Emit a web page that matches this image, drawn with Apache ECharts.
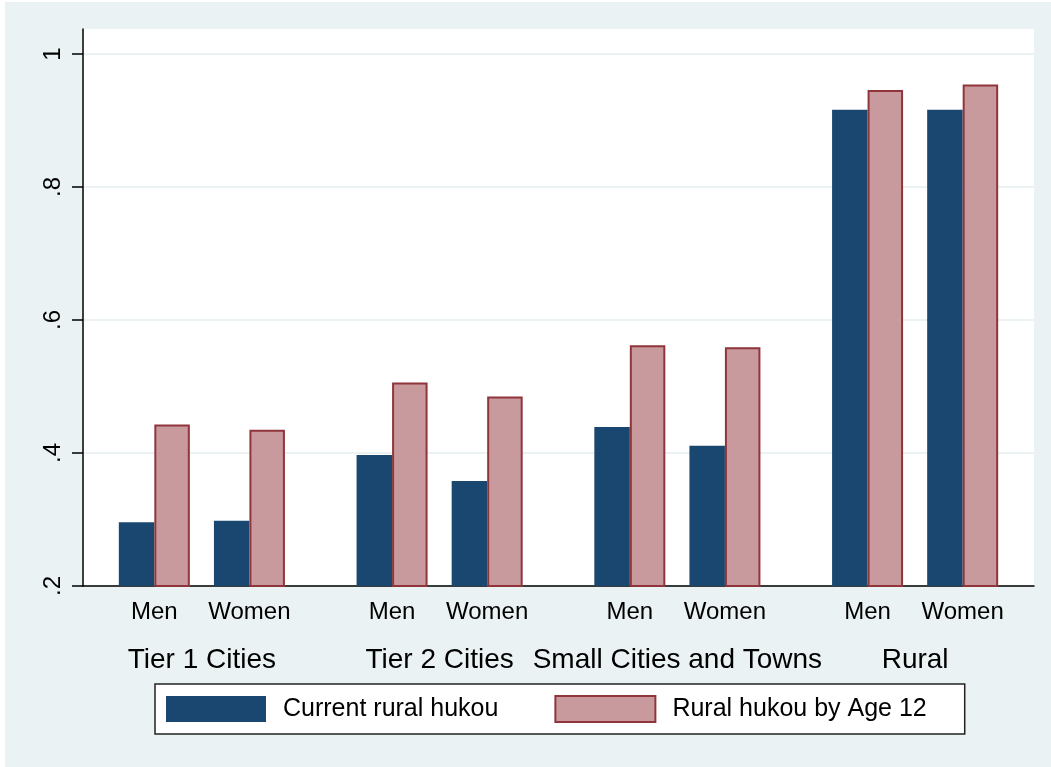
<!DOCTYPE html>
<html>
<head>
<meta charset="utf-8">
<script src="https://cdn.jsdelivr.net/npm/echarts@6/dist/echarts.min.js"></script>
<style>
  html, body { margin: 0; padding: 0; background: #ffffff; }
  #chart { position: absolute; left: 5px; top: 2px; width: 1046px; height: 765px; background: #EAF2F3; }
</style>
</head>
<body>
<div id="chart"></div>
<script>
// Share of respondents with rural hukou, by place of residence and sex
const regions = ['Tier 1 Cities', 'Tier 2 Cities', 'Small Cities and Towns', 'Rural'];
const sexes = ['Men', 'Women'];
// one value per region x sex, in the order Men, Women for each region
const currentRural = [0.296, 0.298, 0.397, 0.358, 0.439, 0.411, 0.916, 0.916];
const ruralAge12   = [0.443, 0.435, 0.506, 0.485, 0.562, 0.559, 0.946, 0.954];
const seriesNames  = ['Current rural hukou', 'Rural hukou by Age 12'];
const yTicks       = [0.2, 0.4, 0.6, 0.8, 1];
const yTickLabels  = ['.2', '.4', '.6', '.8', '1'];

// Category slots: each region gets five slots (pad, Men, gap, Women, pad),
// so bars of the same region sit close and regions are spread apart.
const SLOTS_PER_REGION = 5;
const slotCount = regions.length * SLOTS_PER_REGION;
const sexSlots = new Array(slotCount).fill('');
const regionSlots = new Array(slotCount).fill('');
const slotValues = [new Array(slotCount).fill('-'), new Array(slotCount).fill('-')];
regions.forEach((r, ri) => {
  regionSlots[ri * SLOTS_PER_REGION + 2] = r;
  sexes.forEach((s, si) => {
    const slot = ri * SLOTS_PER_REGION + 1 + 2 * si;
    const k = ri * sexes.length + si;
    sexSlots[slot] = s;
    slotValues[0][slot] = currentRural[k];
    slotValues[1][slot] = ruralAge12[k];
  });
});
const slotIds = sexSlots.map((_, i) => 'slot' + i);

const FONT = '"Liberation Sans", Arial, sans-serif';
const chart = echarts.init(document.getElementById('chart'), null, { renderer: 'canvas' });

chart.setOption({
  backgroundColor: '#EAF2F3',
  animation: false,
  textStyle: { fontFamily: FONT, color: '#000' },
  grid: {
    left: 78, top: 27, right: 17, bottom: 181,
    show: true, backgroundColor: '#ffffff', borderWidth: 0
  },
  xAxis: [
    {
      type: 'category',
      data: slotIds,
      position: 'bottom',
      axisLine: { show: true, lineStyle: { color: '#000', width: 1.5 } },
      axisTick: { show: false },
      splitLine: { show: false },
      axisLabel: {
        interval: 0, fontSize: 24, color: '#000', fontFamily: FONT, margin: 14,
        formatter: (v, i) => sexSlots[i]
      }
    },
    {
      type: 'category',
      data: slotIds,
      position: 'bottom',
      axisLine: { show: false },
      axisTick: { show: false },
      splitLine: { show: false },
      axisLabel: {
        interval: 0, fontSize: 28, color: '#000', fontFamily: FONT, margin: 60,
        formatter: (v, i) => regionSlots[i]
      }
    }
  ],
  yAxis: {
    type: 'value',
    min: 0.2,
    max: 1.0376,
    interval: 0.2,
    axisLine: { show: true, lineStyle: { color: '#000', width: 1.5 } },
    axisTick: { show: true, length: 11, lineStyle: { color: '#000', width: 1.5 }, customValues: yTicks },
    splitLine: { show: true, lineStyle: { color: '#EAF2F3', width: 2 } },
    axisLabel: {
      customValues: yTicks,
      rotate: 90, fontSize: 24, color: '#000', fontFamily: FONT, margin: 18,
      formatter: v => {
        const i = yTicks.findIndex(t => Math.abs(t - v) < 1e-6);
        return i >= 0 ? yTickLabels[i] : '';
      }
    }
  },
  legend: {
    left: 150, top: 682,
    orient: 'horizontal',
    itemWidth: 100, itemHeight: 26, itemGap: 56,
    padding: [11, 38, 11, 11],
    borderColor: '#222', borderWidth: 1.5, backgroundColor: '#ffffff',
    borderRadius: 0,
    selectedMode: false,
    textStyle: { fontSize: 25, color: '#000', fontFamily: FONT, padding: [0, 0, 0, 12] },
    data: seriesNames.map(n => ({ name: n, icon: 'rect' }))
  },
  series: [
    {
      name: seriesNames[0],
      type: 'bar',
      data: slotValues[0],
      barWidth: 35.5,
      barGap: '0%',
      itemStyle: { color: '#1A476F' }
    },
    {
      name: seriesNames[1],
      type: 'bar',
      data: slotValues[1],
      barWidth: 35.5,
      barGap: '0%',
      itemStyle: { color: '#C89A9D', borderColor: '#90353B', borderWidth: 2 }
    }
  ]
});
</script>
</body>
</html>
